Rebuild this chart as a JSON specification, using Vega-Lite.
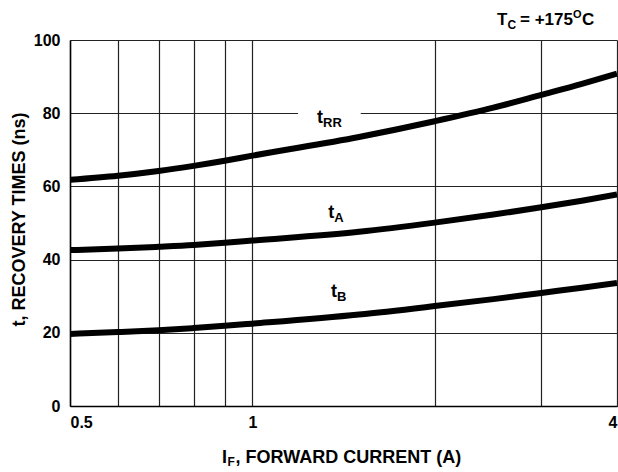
{
  "$schema": "https://vega.github.io/schema/vega-lite/v6.json",
  "width": 547,
  "height": 366,
  "autosize": {"type": "none"},
  "padding": {"left": 70, "top": 40, "right": 1, "bottom": 66},
  "background": "white",
  "config": {"view": {"stroke": null}, "font": "Liberation Sans"},
  "datasets": {
    "curves": [
      {"series": "tRR", "I": 0.5, "t": 61.8},
      {"series": "tRR", "I": 0.6, "t": 62.9},
      {"series": "tRR", "I": 0.7, "t": 64.2},
      {"series": "tRR", "I": 0.8, "t": 65.6},
      {"series": "tRR", "I": 0.9, "t": 67.0},
      {"series": "tRR", "I": 1.0, "t": 68.4},
      {"series": "tRR", "I": 1.5, "t": 73.5},
      {"series": "tRR", "I": 2.0, "t": 77.8},
      {"series": "tRR", "I": 2.5, "t": 81.5},
      {"series": "tRR", "I": 3.0, "t": 85.0},
      {"series": "tRR", "I": 3.5, "t": 88.0},
      {"series": "tRR", "I": 4.0, "t": 90.8},
      {"series": "tA", "I": 0.5, "t": 42.6},
      {"series": "tA", "I": 0.6, "t": 43.0},
      {"series": "tA", "I": 0.7, "t": 43.5},
      {"series": "tA", "I": 0.8, "t": 44.0},
      {"series": "tA", "I": 0.9, "t": 44.6},
      {"series": "tA", "I": 1.0, "t": 45.2},
      {"series": "tA", "I": 1.5, "t": 47.6},
      {"series": "tA", "I": 2.0, "t": 50.1},
      {"series": "tA", "I": 2.5, "t": 52.3},
      {"series": "tA", "I": 3.0, "t": 54.3},
      {"series": "tA", "I": 3.5, "t": 56.1},
      {"series": "tA", "I": 4.0, "t": 57.8},
      {"series": "tB", "I": 0.5, "t": 19.7},
      {"series": "tB", "I": 0.6, "t": 20.2},
      {"series": "tB", "I": 0.7, "t": 20.7},
      {"series": "tB", "I": 0.8, "t": 21.3},
      {"series": "tB", "I": 0.9, "t": 21.9},
      {"series": "tB", "I": 1.0, "t": 22.5},
      {"series": "tB", "I": 1.5, "t": 25.0},
      {"series": "tB", "I": 2.0, "t": 27.3},
      {"series": "tB", "I": 2.5, "t": 29.2},
      {"series": "tB", "I": 3.0, "t": 30.9},
      {"series": "tB", "I": 3.5, "t": 32.3},
      {"series": "tB", "I": 4.0, "t": 33.6}
    ],
    "gap": [{"I": 1.19, "I2": 1.51, "t": 78.8, "t2": 81.2}],
    "labels": [
      {"I": 1.279, "t": 77.3, "main": "t", "sub": "RR"},
      {"I": 1.334, "t": 51.4, "main": "t", "sub": "A"},
      {"I": 1.349, "t": 29.8, "main": "t", "sub": "B"}
    ],
    "tc": [{"I": 2.535, "t": 104.1, "a": "T", "b": "C", "c": "= +175", "d": "O", "e": "C"}],
    "xt": [{"I": 0.891, "t": -15.6, "a": "I", "b": "F", "c": ", FORWARD CURRENT (A)"}]
  },
  "encoding": {
    "x": {
      "field": "I",
      "type": "quantitative",
      "scale": {"type": "log", "domain": [0.5, 4], "nice": false},
      "axis": {
        "values": [0.5, 0.6, 0.7, 0.8, 0.9, 1, 2, 3, 4],
        "format": "~g",
        "labelExpr": "indexof([0.5, 1, 4], datum.value) >= 0 ? datum.label : ''",
        "grid": true,
        "gridColor": "#222222",
        "gridWidth": 1.2,
        "gridOpacity": 1,
        "domainColor": "#000000",
        "domainWidth": 1.5,
        "ticks": false,
        "labelFont": "Liberation Sans",
        "labelFontSize": 16,
        "labelFontWeight": "bold",
        "labelColor": "#000000",
        "labelPadding": 8,
        "labelFlush": true,
        "title": null
      }
    },
    "y": {
      "field": "t",
      "type": "quantitative",
      "scale": {"domain": [0, 100], "nice": false},
      "axis": {
        "values": [0, 20, 40, 60, 80, 100],
        "grid": true,
        "gridColor": "#222222",
        "gridWidth": 1.2,
        "gridOpacity": 1,
        "domainColor": "#000000",
        "domainWidth": 1.5,
        "ticks": false,
        "labelFont": "Liberation Sans",
        "labelFontSize": 16,
        "labelFontWeight": "bold",
        "labelColor": "#000000",
        "labelPadding": 10,
        "title": "t, RECOVERY TIMES (ns)",
        "titleFont": "Liberation Sans",
        "titleFontSize": 18,
        "titleFontWeight": "bold",
        "titleColor": "#000000",
        "titleAngle": 270,
        "titleAlign": "center",
        "titleBaseline": "alphabetic",
        "titleX": -46,
        "titleY": 179
      }
    }
  },
  "layer": [
    {
      "data": {"name": "gap"},
      "mark": {"type": "rect", "color": "white"},
      "encoding": {"x2": {"field": "I2"}, "y2": {"field": "t2"}}
    },
    {
      "data": {"name": "curves"},
      "mark": {"type": "line", "interpolate": "monotone", "strokeWidth": 6, "color": "black", "clip": true},
      "encoding": {"detail": {"field": "series"}}
    },
    {
      "data": {"name": "labels"},
      "mark": {"type": "text", "align": "left", "baseline": "alphabetic", "fontSize": 18, "fontWeight": "bold", "color": "black"},
      "encoding": {"text": {"field": "main"}}
    },
    {
      "data": {"name": "labels"},
      "mark": {"type": "text", "align": "left", "baseline": "alphabetic", "fontSize": 13, "fontWeight": "bold", "color": "black", "dx": 6, "dy": 4},
      "encoding": {"text": {"field": "sub"}}
    },
    {
      "data": {"name": "tc"},
      "mark": {"type": "text", "align": "left", "baseline": "alphabetic", "fontSize": 17, "fontWeight": "bold", "color": "black"},
      "encoding": {"text": {"field": "a"}}
    },
    {
      "data": {"name": "tc"},
      "mark": {"type": "text", "align": "left", "baseline": "alphabetic", "fontSize": 12, "fontWeight": "bold", "color": "black", "dx": 10.5, "dy": 4},
      "encoding": {"text": {"field": "b"}}
    },
    {
      "data": {"name": "tc"},
      "mark": {"type": "text", "align": "left", "baseline": "alphabetic", "fontSize": 17, "fontWeight": "bold", "color": "black", "dx": 23},
      "encoding": {"text": {"field": "c"}}
    },
    {
      "data": {"name": "tc"},
      "mark": {"type": "text", "align": "left", "baseline": "alphabetic", "fontSize": 11, "fontWeight": "bold", "color": "black", "dx": 76, "dy": -7},
      "encoding": {"text": {"field": "d"}}
    },
    {
      "data": {"name": "tc"},
      "mark": {"type": "text", "align": "left", "baseline": "alphabetic", "fontSize": 17, "fontWeight": "bold", "color": "black", "dx": 85},
      "encoding": {"text": {"field": "e"}}
    },
    {
      "data": {"name": "xt"},
      "mark": {"type": "text", "align": "left", "baseline": "alphabetic", "fontSize": 18, "fontWeight": "bold", "color": "black"},
      "encoding": {"text": {"field": "a"}}
    },
    {
      "data": {"name": "xt"},
      "mark": {"type": "text", "align": "left", "baseline": "alphabetic", "fontSize": 12, "fontWeight": "bold", "color": "black", "dx": 5.5, "dy": 3},
      "encoding": {"text": {"field": "b"}}
    },
    {
      "data": {"name": "xt"},
      "mark": {"type": "text", "align": "left", "baseline": "alphabetic", "fontSize": 18, "fontWeight": "bold", "color": "black", "dx": 13.5},
      "encoding": {"text": {"field": "c"}}
    }
  ]
}
